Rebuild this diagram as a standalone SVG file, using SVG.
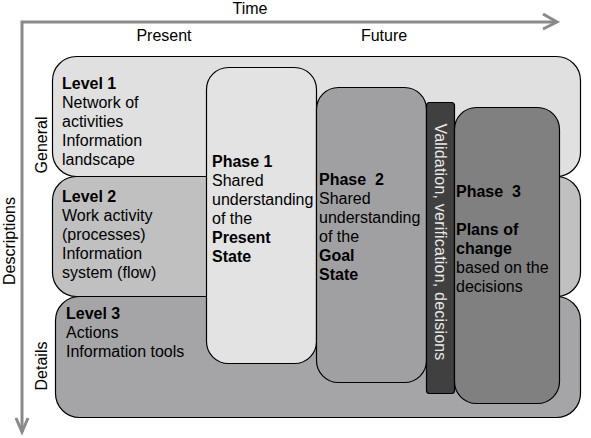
<svg xmlns="http://www.w3.org/2000/svg" width="591" height="438" viewBox="0 0 591 438">
<style>
text{font-family:"Liberation Sans",Arial,sans-serif;font-size:16px;fill:#000}
.b{font-weight:bold}
.box{stroke:#000;stroke-width:1.2}
.axis{stroke:#8a8a8a;stroke-width:3;fill:none}
</style>
<rect width="591" height="438" fill="#fff"/>
<g id="axes">
<polyline class="axis" points="22,432 22,22 557,22"/>
<polyline class="axis" points="543,14 557,22 543,29"/>
<polyline class="axis" points="16,418 22,432 28,418"/>
</g>
<g id="axis-labels">
<text x="250" y="14" text-anchor="middle">Time</text>
<text x="164" y="41" text-anchor="middle">Present</text>
<text x="384" y="41" text-anchor="middle">Future</text>
<text transform="translate(15,241) rotate(-90)" text-anchor="middle">Descriptions</text>
<text transform="translate(47,145) rotate(-90)" text-anchor="middle">General</text>
<text transform="translate(47,366) rotate(-90)" text-anchor="middle">Details</text>
</g>
<g id="level1">
<rect class="box" x="52.5" y="56.5" width="528" height="120" rx="24" fill="#e0e0e0"/>
<text x="62" y="89" class="b">Level 1</text>
<text x="62" y="108">Network of</text>
<text x="62" y="127">activities</text>
<text x="62" y="146">Information</text>
<text x="62" y="165">landscape</text>
</g>
<g id="level2">
<rect class="box" x="52.5" y="176.5" width="528" height="120" rx="24" fill="#c0c0c0"/>
<text x="62" y="202" class="b">Level 2</text>
<text x="62" y="221">Work activity</text>
<text x="62" y="240">(processes)</text>
<text x="62" y="259">Information</text>
<text x="62" y="278">system (flow)</text>
</g>
<g id="level3">
<rect class="box" x="55.5" y="296.5" width="525" height="121" rx="24" fill="#a5a5a8"/>
<text x="66" y="319" class="b">Level 3</text>
<text x="66" y="338">Actions</text>
<text x="66" y="357">Information tools</text>
</g>
<g id="phase1">
<rect class="box" x="206.5" y="67.5" width="110" height="296" rx="22" fill="#e3e3e3"/>
<text x="212" y="167" class="b">Phase 1</text>
<text x="212" y="186">Shared</text>
<text x="212" y="205">understanding</text>
<text x="212" y="224">of the</text>
<text x="212" y="243" class="b">Present</text>
<text x="212" y="262" class="b">State</text>
</g>
<g id="phase2">
<rect class="box" x="316.5" y="87.5" width="110" height="295" rx="22" fill="#a0a0a3"/>
<text x="319" y="185" class="b" xml:space="preserve">Phase  2</text>
<text x="319" y="204">Shared</text>
<text x="319" y="223">understanding</text>
<text x="319" y="242">of the</text>
<text x="319" y="261" class="b">Goal</text>
<text x="319" y="280" class="b">State</text>
</g>
<g id="validation">
<rect class="box" x="426.5" y="102.5" width="28" height="291" rx="3" fill="#404040"/>
<text transform="translate(435,242) rotate(90)" text-anchor="middle" style="fill:#e8e8e8;letter-spacing:0.2px">Validation, verification, decisions</text>
</g>
<g id="phase3">
<rect class="box" x="454.5" y="107.5" width="105" height="296" rx="22" fill="#808080"/>
<text x="456" y="197" class="b" xml:space="preserve">Phase  3</text>
<text x="456" y="235" class="b">Plans of</text>
<text x="456" y="254" class="b">change</text>
<text x="456" y="273">based on the</text>
<text x="456" y="292">decisions</text>
</g>
</svg>
